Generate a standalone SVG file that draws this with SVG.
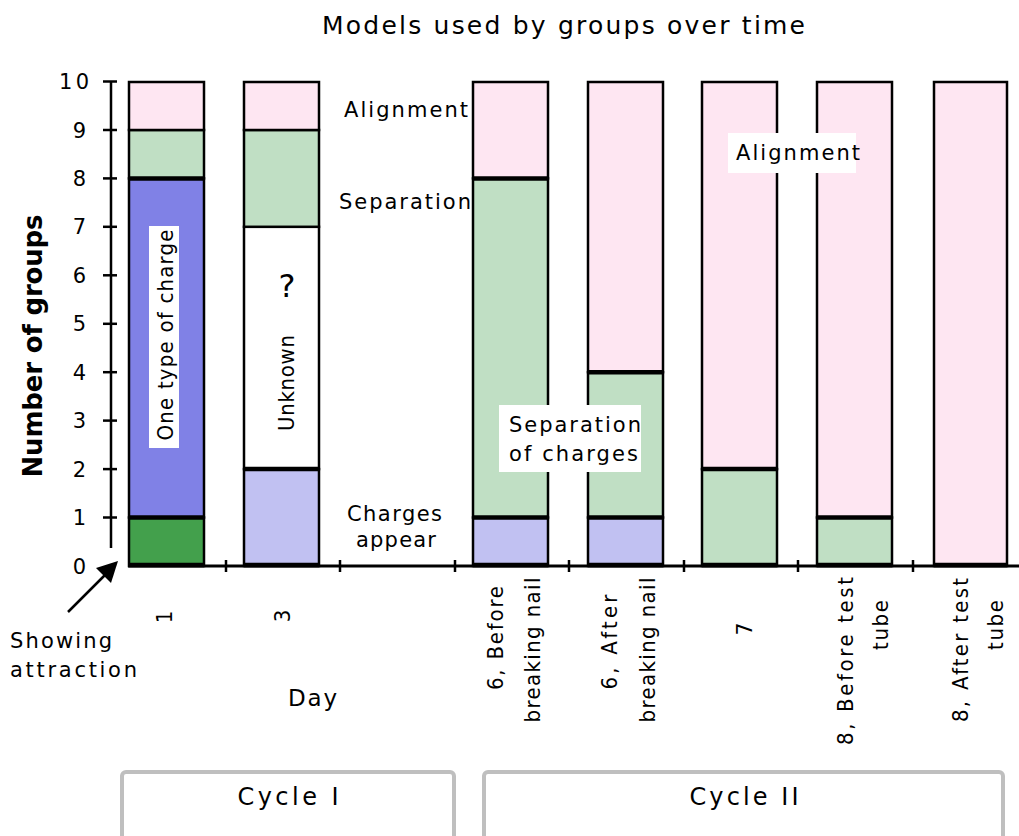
<svg xmlns="http://www.w3.org/2000/svg" width="1019" height="836" viewBox="0 0 1019 836">
  <style>
    .v { font-family: "DejaVu Sans", Verdana, sans-serif; font-size: 21px; fill: #000; }
    .n { font-family: "Liberation Sans Narrow", "DejaVu Sans Condensed", "Liberation Sans", sans-serif; font-size: 22px; fill: #000; }
    .seg { stroke: #000; stroke-width: 2.5; }
    .div { stroke: #000; stroke-width: 4.5; }
    .axis { stroke: #000; stroke-width: 2.5; fill: none; }
    .pink { fill: #fee6f2; }
    .lgreen { fill: #c0dfc4; }
    .blue { fill: #8081e6; }
    .dgreen { fill: #43a04c; }
    .lblue { fill: #c1c1f2; }
    .white { fill: #fff; }
    .cycle { fill: #fff; stroke: #bfbfbf; stroke-width: 4; }
  </style>
  <rect width="1019" height="836" fill="#fff"/>

  <!-- title -->
  <text class="v" style="font-size:25px" x="322" y="34" textLength="483" lengthAdjust="spacing">Models used by groups over time</text>

  <!-- axes -->
  <g id="axes">
    <line class="axis" x1="111" y1="81" x2="111" y2="548"/>
    <line class="axis" x1="128" y1="566" x2="1019" y2="566" style="stroke-width:3"/>
    <g class="axis">
      <line x1="103" y1="81.5" x2="117" y2="81.5"/>
      <line x1="103" y1="130" x2="117" y2="130"/>
      <line x1="103" y1="178.4" x2="117" y2="178.4"/>
      <line x1="103" y1="226.8" x2="117" y2="226.8"/>
      <line x1="103" y1="275.3" x2="117" y2="275.3"/>
      <line x1="103" y1="323.8" x2="117" y2="323.8"/>
      <line x1="103" y1="372.2" x2="117" y2="372.2"/>
      <line x1="103" y1="420.6" x2="117" y2="420.6"/>
      <line x1="103" y1="469.1" x2="117" y2="469.1"/>
      <line x1="103" y1="517.5" x2="117" y2="517.5"/>
      <line x1="226" y1="560" x2="226" y2="572"/>
      <line x1="340" y1="560" x2="340" y2="572"/>
      <line x1="455" y1="560" x2="455" y2="572"/>
      <line x1="569" y1="560" x2="569" y2="572"/>
      <line x1="684" y1="560" x2="684" y2="572"/>
      <line x1="798" y1="560" x2="798" y2="572"/>
      <line x1="913" y1="560" x2="913" y2="572"/>
    </g>
    <g class="v" text-anchor="end">
      <text x="89" y="89" textLength="30" lengthAdjust="spacing">10</text>
      <text x="86" y="137.5">9</text>
      <text x="86" y="185.9">8</text>
      <text x="86" y="234.3">7</text>
      <text x="86" y="282.8">6</text>
      <text x="86" y="331.3">5</text>
      <text x="86" y="379.7">4</text>
      <text x="86" y="428.1">3</text>
      <text x="86" y="476.6">2</text>
      <text x="86" y="525">1</text>
      <text x="86" y="573.5">0</text>
    </g>
    <text class="v" style="font-size:26px;font-weight:bold" text-anchor="middle" transform="translate(42,346) rotate(-90)" textLength="263" lengthAdjust="spacing">Number of groups</text>
  </g>

  <!-- bar: day 1 -->
  <g id="bar-day1">
    <rect class="seg dgreen" x="129" y="517.5" width="75" height="48.5"/>
    <rect class="seg blue" x="129" y="178.4" width="75" height="339.1"/>
    <rect class="seg lgreen" x="129" y="130" width="75" height="48.4"/>
    <rect class="seg pink" x="129" y="82" width="75" height="48"/>
    <line class="div" x1="129" y1="517.5" x2="204" y2="517.5"/>
    <line class="div" x1="129" y1="178.4" x2="204" y2="178.4"/>
    <line class="div" x1="129" y1="565" x2="204" y2="565"/>
    <rect class="white" x="149" y="226" width="30" height="222"/>
    <text class="n" text-anchor="middle" transform="translate(173,335) rotate(-90)" textLength="211" lengthAdjust="spacing">One type of charge</text>
  </g>

  <!-- bar: day 3 -->
  <g id="bar-day3">
    <rect class="seg lblue" x="244" y="469.1" width="75" height="96.9"/>
    <rect class="seg white" x="244" y="226.8" width="75" height="242.3"/>
    <rect class="seg lgreen" x="244" y="130" width="75" height="96.8"/>
    <rect class="seg pink" x="244" y="82" width="75" height="48"/>
    <line class="div" x1="244" y1="469.1" x2="319" y2="469.1"/>
    <line class="div" x1="244" y1="565" x2="319" y2="565"/>
    <text class="v" style="font-size:32px" text-anchor="middle" x="287" y="297">?</text>
    <text class="n" text-anchor="middle" transform="translate(294,383) rotate(-90)" textLength="96" lengthAdjust="spacing">Unknown</text>
  </g>

  <!-- bar: day 6, before breaking nail -->
  <g id="bar-day6-before">
    <rect class="seg lblue" x="473" y="517.5" width="75" height="48.5"/>
    <rect class="seg lgreen" x="473" y="178.4" width="75" height="339.1"/>
    <rect class="seg pink" x="473" y="82" width="75" height="96.4"/>
    <line class="div" x1="473" y1="517.5" x2="548" y2="517.5"/>
    <line class="div" x1="473" y1="178.4" x2="548" y2="178.4"/>
    <line class="div" x1="473" y1="565" x2="548" y2="565"/>
  </g>

  <!-- bar: day 6, after breaking nail -->
  <g id="bar-day6-after">
    <rect class="seg lblue" x="588" y="517.5" width="75" height="48.5"/>
    <rect class="seg lgreen" x="588" y="372.2" width="75" height="145.3"/>
    <rect class="seg pink" x="588" y="82" width="75" height="290.2"/>
    <line class="div" x1="588" y1="517.5" x2="663" y2="517.5"/>
    <line class="div" x1="588" y1="372.2" x2="663" y2="372.2"/>
    <line class="div" x1="588" y1="565" x2="663" y2="565"/>
  </g>

  <!-- bar: day 7 -->
  <g id="bar-day7">
    <rect class="seg lgreen" x="702" y="469.1" width="75" height="96.9"/>
    <rect class="seg pink" x="702" y="82" width="75" height="387.1"/>
    <line class="div" x1="702" y1="469.1" x2="777" y2="469.1"/>
    <line class="div" x1="702" y1="565" x2="777" y2="565"/>
  </g>

  <!-- bar: day 8, before test tube -->
  <g id="bar-day8-before">
    <rect class="seg lgreen" x="817" y="517.5" width="75" height="48.5"/>
    <rect class="seg pink" x="817" y="82" width="75" height="435.5"/>
    <line class="div" x1="817" y1="517.5" x2="892" y2="517.5"/>
    <line class="div" x1="817" y1="565" x2="892" y2="565"/>
  </g>

  <!-- bar: day 8, after test tube -->
  <g id="bar-day8-after">
    <rect class="seg pink" x="934" y="82" width="73" height="484"/>
    <line class="div" x1="934" y1="565" x2="1007" y2="565"/>
  </g>

  <!-- model labels -->
  <g id="labels" class="v">
    <text x="344" y="117" textLength="124" lengthAdjust="spacing">Alignment</text>
    <text x="339" y="209" textLength="132" lengthAdjust="spacing">Separation</text>
    <text x="347" y="521" textLength="95" lengthAdjust="spacing">Charges</text>
    <text x="356" y="547" textLength="80" lengthAdjust="spacing">appear</text>
    <rect class="white" x="499" y="405" width="142" height="67"/>
    <text x="509" y="432" textLength="132" lengthAdjust="spacing">Separation</text>
    <text x="509" y="461" textLength="129" lengthAdjust="spacing">of charges</text>
    <rect class="white" x="728" y="133" width="128" height="40"/>
    <text x="736" y="160" textLength="124" lengthAdjust="spacing">Alignment</text>
  </g>

  <!-- category labels -->
  <g id="categories" class="n" text-anchor="middle">
    <text transform="translate(172,617) rotate(-90)">1</text>
    <text transform="translate(290,616) rotate(-90)">3</text>
    <text transform="translate(503,638) rotate(-90)" textLength="104" lengthAdjust="spacing">6, Before</text>
    <text transform="translate(540,650) rotate(-90)" textLength="145" lengthAdjust="spacing">breaking nail</text>
    <text transform="translate(617,642) rotate(-90)" textLength="95" lengthAdjust="spacing">6, After</text>
    <text transform="translate(655,650) rotate(-90)" textLength="145" lengthAdjust="spacing">breaking nail</text>
    <text transform="translate(752,629) rotate(-90)">7</text>
    <text transform="translate(853,661) rotate(-90)" textLength="168" lengthAdjust="spacing">8, Before test</text>
    <text transform="translate(888,625) rotate(-90)" textLength="50" lengthAdjust="spacing">tube</text>
    <text transform="translate(968,650) rotate(-90)" textLength="144" lengthAdjust="spacing">8, After test</text>
    <text transform="translate(1003,625) rotate(-90)" textLength="50" lengthAdjust="spacing">tube</text>
  </g>

  <!-- annotation arrow -->
  <g id="connectors">
    <line x1="68" y1="612" x2="106" y2="574" stroke="#000" stroke-width="2.5"/>
    <polygon points="118,561 111,583 96,568" fill="#000"/>
  </g>
  <g id="note" class="v">
    <text x="10" y="648" textLength="102" lengthAdjust="spacing">Showing</text>
    <text x="10" y="677" textLength="127" lengthAdjust="spacing">attraction</text>
  </g>
  <text class="v" style="font-size:23px" x="288" y="706" textLength="49" lengthAdjust="spacing">Day</text>

  <!-- cycle boxes -->
  <g id="cycle1">
    <rect class="cycle" x="122" y="772" width="332" height="80" rx="4"/>
    <text class="v" style="font-size:24px" text-anchor="middle" x="288" y="805" textLength="101" lengthAdjust="spacing">Cycle I</text>
  </g>
  <g id="cycle2">
    <rect class="cycle" x="484" y="772" width="519" height="80" rx="4"/>
    <text class="v" style="font-size:24px" text-anchor="middle" x="744" y="805" textLength="109" lengthAdjust="spacing">Cycle II</text>
  </g>
</svg>
